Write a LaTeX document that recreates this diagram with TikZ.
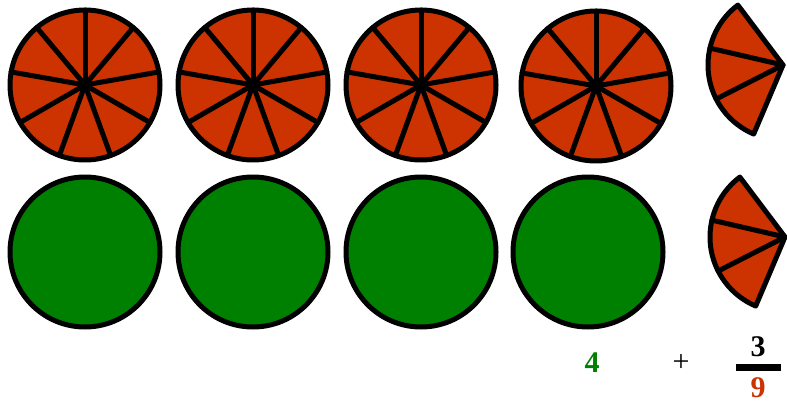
\documentclass[tikz,border=0pt]{standalone}
\usepackage{fontspec}
\setmainfont{Liberation Serif}
\definecolor{pieRed}{RGB}{204,51,0}
\definecolor{pieGreen}{RGB}{0,128,0}
\tikzset{
  whole/.style={draw=black, line width=5pt, line join=round},
  spoke/.style={draw=black, line width=5pt, line cap=round},
  num/.style={font=\fontsize{30}{36}\selectfont\bfseries, inner sep=0pt}
}
\begin{document}
\begin{tikzpicture}[x=1pt, y=1pt]
            \useasboundingbox (0,0) rectangle (787,405);
            \coordinate (A) at (85,320);
            \coordinate (B) at (253,320);
            \coordinate (C) at (421,320);
            \coordinate (D) at (596,319);
            \coordinate (E) at (783,340);
            \coordinate (A2) at (85,153);
            \coordinate (B2) at (253,153);
            \coordinate (C2) at (421,153);
            \coordinate (D2) at (588,153);
            \coordinate (E2) at (785,168);
            % cut circles
            \foreach \c in {A,B,C,D} {
                \draw[whole, fill=pieRed] (\c) circle (75);
                \foreach \a in {90,130,...,410}
                    \draw[spoke] (\c) -- ++(\a:75);
            }
            % whole circles
            \foreach \c in {A2,B2,C2,D2}
                \draw[whole, fill=pieGreen] (\c) circle (75);
            % three ninths
            \foreach \c in {E,E2} {
                \draw[whole, fill=pieRed] (\c) -- ++(127:75) arc (127:247:75) -- cycle;
                \foreach \a in {167,207}
                    \draw[spoke] (\c) -- ++(\a:75);
            }
            \node[num, text=pieGreen] (four) at (592,42) {4};
            \node[font=\fontsize{30}{36}\selectfont, inner sep=0pt] (plus) at (681,42) {+};
            \node[num] (three) at (758,58) {3};
            \node[num, text=pieRed] (nine) at (758,17) {9};
            \draw[line width=7pt] (736,38) -- (781,38);
        \end{tikzpicture}
\end{document}
